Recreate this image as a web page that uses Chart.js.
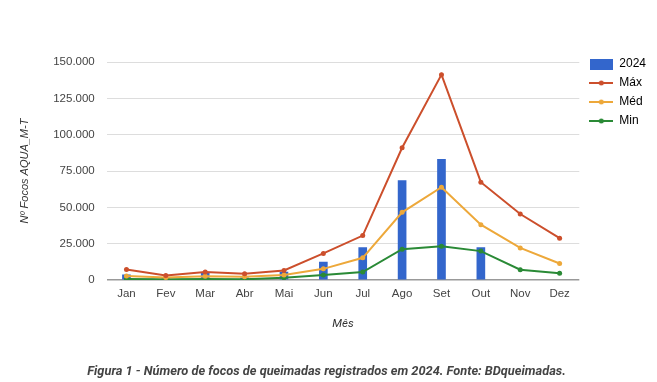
<!DOCTYPE html>
<html>
<head>
<meta charset="utf-8">
<script src="https://cdn.jsdelivr.net/npm/chart.js@4.4.1/dist/chart.umd.min.js"></script>
<style>
  html, body { margin: 0; padding: 0; background: #fff; }
  #wrap { width: 657px; height: 382px; }
</style>
</head>
<body>
<div id="wrap"><canvas id="chart" width="657" height="382"></canvas></div>
<script>
// dados (nº de focos por mês)
const meses = ['Jan', 'Fev', 'Mar', 'Abr', 'Mai', 'Jun', 'Jul', 'Ago', 'Set', 'Out', 'Nov', 'Dez'];
const focos2024 = [3500, 1000, 5000, 1500, 5500, 12300, 22400, 68500, 83000, 22400, null, null];
const focosMax = [7300, 3200, 5500, 4300, 6600, 18300, 30600, 91000, 141300, 67300, 45400, 28800];
const focosMed = [2800, 1800, 2600, 2300, 3500, 7700, 15300, 46600, 63900, 38100, 22100, 11400];
const focosMin = [700, 500, 800, 500, 1500, 3500, 5500, 21200, 23300, 19900, 7100, 4600];
const yTicks = [0, 25000, 50000, 75000, 100000, 125000, 150000];

const corBarra = '#3366cc';
const corMax = '#cc4f2c';
const corMed = '#eda83a';
const corMin = '#2a8a36';

// ícones da legenda (linha com ponto / caixa)
function iconeLinha(cor) {
    const c = document.createElement('canvas');
    c.width = 24; c.height = 10;
    const g = c.getContext('2d');
    g.strokeStyle = cor; g.lineWidth = 2;
    g.beginPath(); g.moveTo(0, 5); g.lineTo(24, 5); g.stroke();
    g.fillStyle = cor;
    g.beginPath(); g.arc(12, 5, 2.5, 0, Math.PI * 2); g.fill();
    return c;
}
function iconeCaixa(cor) {
    const c = document.createElement('canvas');
    c.width = 23; c.height = 11;
    const g = c.getContext('2d');
    g.fillStyle = cor; g.fillRect(0, 0, 23, 11);
    return c;
}
const icones = [iconeCaixa(corBarra), iconeLinha(corMax), iconeLinha(corMed), iconeLinha(corMin)];

function formatoBR(v) {
    return String(v).replace(/\B(?=(\d{3})+(?!\d))/g, '.');
}

// desloca legenda e legenda da figura para ficarem na mesma posição do original
const ajusteLayout = {
    id: 'ajusteLayout',
    afterLayout: chart => {
        const lg = chart.legend;
        lg.top -= 11; lg.bottom -= 11;
        lg.left += 3; lg.right += 3;
        const tb = chart.titleBlock;
        tb.left -= 9; tb.right -= 9;
    }
};

const fonteEixo = { family: 'Arial, "Liberation Sans"', size: 11.5 };

const ctx = document.getElementById('chart').getContext('2d');
new Chart(ctx, {
    type: 'bar',
    data: {
        labels: meses,
        datasets: [
            { type: 'bar', label: '2024', data: focos2024, backgroundColor: corBarra, barThickness: 8, order: 1 },
            { type: 'line', label: 'Máx', data: focosMax, borderColor: corMax, backgroundColor: corMax, borderWidth: 2, pointRadius: 2.5, pointBorderWidth: 0, tension: 0, order: 0 },
            { type: 'line', label: 'Méd', data: focosMed, borderColor: corMed, backgroundColor: corMed, borderWidth: 2, pointRadius: 2.5, pointBorderWidth: 0, tension: 0, order: 0 },
            { type: 'line', label: 'Min', data: focosMin, borderColor: corMin, backgroundColor: corMin, borderWidth: 2, pointRadius: 2.5, pointBorderWidth: 0, tension: 0, order: 0 }
        ]
    },
    options: {
        responsive: false,
        animation: false,
        layout: { padding: { left: 18, right: 4, top: 62, bottom: 3 } },
        plugins: {
            tooltip: { enabled: false },
            legend: {
                position: 'right',
                align: 'start',
                labels: {
                    usePointStyle: true,
                    pointStyleWidth: 24,
                    padding: 7,
                    color: '#333',
                    font: { family: 'Arial, "Liberation Sans"', size: 12 },
                    generateLabels: chart => chart.data.datasets.map((ds, i) => ({
                        text: ds.label,
                        pointStyle: icones[i],
                        fillStyle: ds.backgroundColor,
                        strokeStyle: ds.borderColor || ds.backgroundColor,
                        lineWidth: 0,
                        hidden: false,
                        datasetIndex: i
                    }))
                }
            },
            title: {
                display: true,
                position: 'bottom',
                text: 'Figura 1 - Número de focos de queimadas registrados em 2024. Fonte: BDqueimadas.',
                color: '#444',
                font: { family: 'Roboto', size: 12.8, style: 'italic', weight: 'bold' },
                padding: { top: 33, bottom: 0 }
            }
        },
        scales: {
            x: {
                grid: { display: false, drawTicks: false },
                border: { display: false },
                ticks: { color: '#444', font: fonteEixo, padding: 7 },
                title: {
                    display: true,
                    text: 'Mês',
                    color: '#333',
                    font: { family: 'Roboto', size: 11.5, style: 'italic' },
                    padding: { top: 9, bottom: 0 }
                }
            },
            y: {
                min: 0,
                max: 150000,
                afterBuildTicks: axis => { axis.ticks = yTicks.map(v => ({ value: v })); },
                grid: {
                    color: c => c.tick && c.tick.value === 0 ? '#999' : '#ddd',
                    lineWidth: c => c.tick && c.tick.value === 0 ? 1.5 : 1,
                    drawTicks: false
                },
                border: { display: false },
                ticks: { color: '#444', font: fonteEixo, padding: 12, callback: v => formatoBR(v) },
                title: {
                    display: true,
                    text: 'Nº Focos AQUA_M-T',
                    color: '#333',
                    font: { family: 'Arial, "Liberation Sans"', size: 11, style: 'italic' },
                    padding: { top: 0, bottom: 10 }
                }
            }
        }
    },
    plugins: [ajusteLayout]
});
</script>
</body>
</html>
